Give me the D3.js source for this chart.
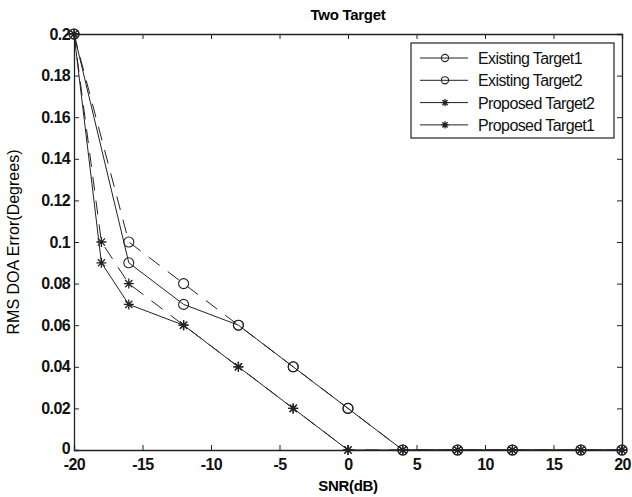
<!DOCTYPE html>
<html>
<head>
<meta charset="utf-8">
<script src="https://cdn.jsdelivr.net/npm/d3@7.9.0/dist/d3.min.js"></script>
<style>
  body { margin: 0; background: #fff; }
  svg { display: block; font-family: 'Liberation Sans', Arial, sans-serif; }
</style>
</head>
<body>
<div id="chart"></div>
<script>
// values
const existingSnr = [-20, -16, -12, -8, -4, 0, 4, 8, 12, 17, 20];
const existingTarget1 = [0.2, 0.1, 0.08, 0.06, 0.04, 0.02, 0, 0, 0, 0, 0];
const existingTarget2 = [0.2, 0.09, 0.07, 0.06, 0.04, 0.02, 0, 0, 0, 0, 0];

const proposedSnr = [-20, -18, -16, -12, -8, -4, 0, 4, 8, 12, 17, 20];
const proposedTarget2 = [0.2, 0.1, 0.08, 0.06, 0.04, 0.02, 0, 0, 0, 0, 0, 0];
const proposedTarget1 = [0.2, 0.09, 0.07, 0.06, 0.04, 0.02, 0, 0, 0, 0, 0, 0];

const xTicks = [-20, -15, -10, -5, 0, 5, 10, 15, 20];
const yTicks = [0, 0.02, 0.04, 0.06, 0.08, 0.1, 0.12, 0.14, 0.16, 0.18, 0.2];

const series = [
    { name: 'Existing Target1', x: existingSnr, y: existingTarget1, marker: 'circle', dashed: true },
    { name: 'Existing Target2', x: existingSnr, y: existingTarget2, marker: 'circle', dashed: false },
    { name: 'Proposed Target2', x: proposedSnr, y: proposedTarget2, marker: 'star', dashed: true },
    { name: 'Proposed Target1', x: proposedSnr, y: proposedTarget1, marker: 'star', dashed: false },
];

const width = 632;
const height = 497;
const margin = { top: 34, right: 10, bottom: 47, left: 74 };

const svg = d3.select('#chart')
    .append('svg')
    .attr('width', width)
    .attr('height', height);

const xScale = d3.scaleLinear().domain([-20, 20]).range([margin.left, width - margin.right]);
const yScale = d3.scaleLinear().domain([0, 0.2]).range([height - margin.bottom, margin.top]);

// 8-spoke asterisk like matlab '*'
const starSymbol = {
    draw(context, size) {
        const r = Math.sqrt(size) / 2;
        const d = r * 0.72;
        context.moveTo(-r, 0); context.lineTo(r, 0);
        context.moveTo(0, -r); context.lineTo(0, r);
        context.moveTo(-d, -d); context.lineTo(d, d);
        context.moveTo(-d, d); context.lineTo(d, -d);
    }
};

function drawMarker(g, type, size) {
    if (type === 'circle') {
        g.append('circle').attr('r', size).attr('fill', 'none')
            .attr('stroke', '#222').attr('stroke-width', 1.1);
    } else {
        g.append('path').attr('d', d3.symbol(starSymbol, size * size * 4)())
            .attr('fill', 'none').attr('stroke', '#222').attr('stroke-width', 1.3);
    }
}

// axes box with inward ticks
const tickFont = (sel) => sel.selectAll('text')
    .attr('font-family', "'Liberation Sans', Arial, sans-serif")
    .attr('font-size', 16).attr('font-weight', 'bold')
    .attr('letter-spacing', '-0.6px').attr('fill', '#111');

const xAxis = svg.append('g')
    .attr('transform', `translate(0, ${yScale(0)})`)
    .call(d3.axisBottom(xScale).tickValues(xTicks).tickSize(-5).tickPadding(9).tickFormat((d) => String(d)));
xAxis.call(tickFont);

svg.append('g')
    .attr('transform', `translate(0, ${yScale(0.2)})`)
    .call(d3.axisTop(xScale).tickValues(xTicks).tickSize(-5).tickFormat(''));

const yAxis = svg.append('g')
    .attr('transform', `translate(${xScale(-20)}, 0)`)
    .call(d3.axisLeft(yScale).tickValues(yTicks).tickSize(-5).tickPadding(4)
        .tickFormat((d) => d === 0 ? '0' : String(+d.toFixed(2))));
yAxis.call(tickFont);
// matlab puts the bottom "0" a little higher
yAxis.selectAll('.tick text').filter((d) => d === 0).attr('dy', '0.2em');

svg.append('g')
    .attr('transform', `translate(${xScale(20)}, 0)`)
    .call(d3.axisRight(yScale).tickValues(yTicks).tickSize(-5).tickFormat(''));

svg.selectAll('.domain').attr('stroke', '#222').attr('stroke-width', 1.3);
svg.selectAll('.tick line').attr('stroke', '#222');

// lines
const line = d3.line().x((d) => xScale(d[0])).y((d) => yScale(d[1]));

series.forEach((s) => {
    const pts = s.x.map((v, i) => [v, s.y[i]]);
    svg.append('path')
        .datum(pts)
        .attr('d', line)
        .attr('fill', 'none')
        .attr('stroke', '#222')
        .attr('stroke-width', 1)
        .attr('stroke-dasharray', s.dashed ? '14,10' : null);

    pts.forEach((p) => {
        const g = svg.append('g').attr('transform', `translate(${xScale(p[0])}, ${yScale(p[1])})`);
        drawMarker(g, s.marker, 5);
    });
});

// title and axis labels
svg.append('text')
    .attr('x', (xScale(-20) + xScale(20)) / 2).attr('y', 20)
    .attr('text-anchor', 'middle')
    .attr('font-size', 15).attr('font-weight', 'bold').attr('letter-spacing', '-0.3px')
    .text('Two Target');

svg.append('text')
    .attr('x', (xScale(-20) + xScale(20)) / 2).attr('y', 491)
    .attr('text-anchor', 'middle')
    .attr('font-size', 15).attr('font-weight', 'bold').attr('letter-spacing', '-0.3px')
    .text('SNR(dB)');

svg.append('text')
    .attr('transform', `translate(19, ${(yScale(0) + yScale(0.2)) / 2}) rotate(-90)`)
    .attr('text-anchor', 'middle')
    .attr('font-size', 16).attr('letter-spacing', '0px')
    .text('RMS DOA Error(Degrees)');

// legend
const legend = svg.append('g');
legend.append('rect')
    .attr('x', 411).attr('y', 43).attr('width', 203).attr('height', 95)
    .attr('fill', '#fff').attr('stroke', '#222').attr('stroke-width', 1.2);

series.forEach((s, i) => {
    const y = 58 + i * 22.3;
    legend.append('line')
        .attr('x1', 420).attr('x2', 468).attr('y1', y).attr('y2', y)
        .attr('stroke', '#222').attr('stroke-width', 1);
    const g = legend.append('g').attr('transform', `translate(445, ${y})`);
    drawMarker(g, s.marker, 3.6);
    legend.append('text')
        .attr('x', 478).attr('y', y + 6)
        .attr('font-size', 16).attr('letter-spacing', '-0.6px').attr('fill', '#111')
        .text(s.name);
});
</script>
</body>
</html>
